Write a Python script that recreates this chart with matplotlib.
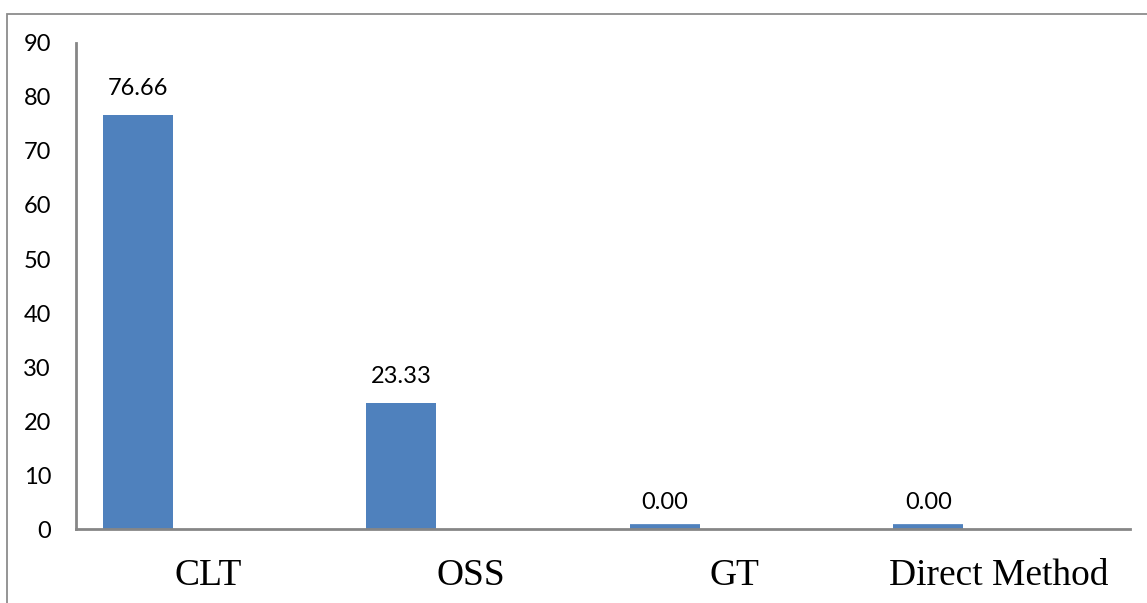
import numpy as np
import matplotlib.pyplot as plt
from matplotlib.patches import Rectangle

categories = ['CLT', 'OSS', 'GT', 'Direct Method']
values = [76.66, 23.33, 0.00, 0.00]
yticks = [0, 10, 20, 30, 40, 50, 60, 70, 80, 90]

bar_color = '#4F81BD'
axis_color = '#868686'

fig = plt.figure(figsize=(11.47, 6.03), dpi=100)
ax = fig.add_axes([0.0663, 0.1227, 0.9189, 0.806])

# chart border (runs off the right and bottom of the image)
fig.patches.append(Rectangle((7 / 1147, -0.05), 1.1, (603 - 14) / 603 + 0.05,
                             transform=fig.transFigure, fill=False,
                             edgecolor='#8c8c8c', linewidth=1.3))

x = np.arange(len(categories))
width = 0.266
pos = x - width
vals = np.array(values)
# zero bars get a thick edge so they still show as a sliver on the axis
lw = np.where(vals == 0, 7, 0)
ax.bar(pos, vals, width, color=bar_color, edgecolor=bar_color, linewidth=lw, zorder=2)

for p, v in zip(pos, vals):
    ax.text(p, v + 2.9, f'{v:.2f}', ha='center', va='bottom',
            fontsize=17, family='Lato', color='black')

ax.set_xlim(-0.5, len(categories) - 0.5)
ax.set_ylim(0, 90)
ax.set_yticks(yticks)
ax.set_yticklabels([str(t) for t in yticks], fontsize=17, family='Lato')
ax.set_xticks(x)
ax.set_xticklabels(categories, fontsize=27, family='Liberation Serif')
ax.tick_params(axis='both', length=0)
ax.tick_params(axis='y', pad=18)
ax.tick_params(axis='x', pad=21)

for s in ['top', 'right']:
    ax.spines[s].set_visible(False)
for s in ['left', 'bottom']:
    ax.spines[s].set_color(axis_color)
    ax.spines[s].set_linewidth(2)
    ax.spines[s].set_zorder(3)

fig.savefig('out.png', dpi=100)
